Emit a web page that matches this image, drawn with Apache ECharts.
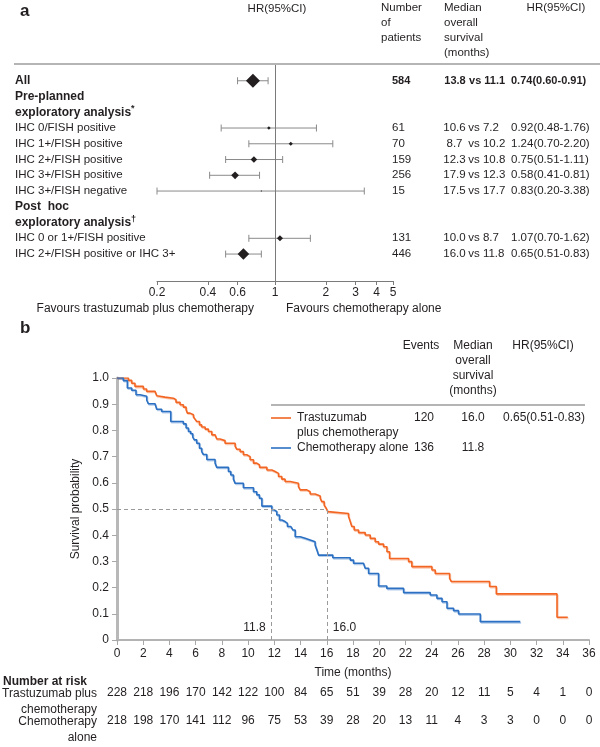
<!DOCTYPE html>
<html><head><meta charset="utf-8">
<script src="https://cdn.jsdelivr.net/npm/echarts@6/dist/echarts.min.js"></script>
<style>html,body{margin:0;padding:0;background:#fff}#c{width:600px;height:747px}</style>
</head><body><div id="c"></div>
<script>
// ---------- Panel a: forest plot data ----------
const forestLabels = ['All','Pre-planned','exploratory analysis','IHC 0/FISH positive','IHC 1+/FISH positive','IHC 2+/FISH positive','IHC 3+/FISH positive','IHC 3+/FISH negative','Post  hoc','exploratory analysis','IHC 0 or 1+/FISH positive','IHC 2+/FISH positive or IHC 3+'];
const forestNotes = ['','','*','','','','','','','\u2020','',''];
const rowKind = ['total','section','section','sub','sub','sub','sub','sub','section','section','sub','sub'];
const nPatients = [584,null,null,61,70,159,256,15,null,null,131,446];
const mosTrast = [13.8,null,null,10.6,8.7,12.3,17.9,17.5,null,null,10.0,16.0];
const mosChemo = [11.1,null,null,7.2,10.2,10.8,12.3,17.7,null,null,8.7,11.8];
const hrPoint = [0.74,null,null,0.92,1.24,0.75,0.58,0.83,null,null,1.07,0.65];
const hrLower = [0.60,null,null,0.48,0.70,0.51,0.41,0.20,null,null,0.70,0.51];
const hrUpper = [0.91,null,null,1.76,2.20,1.11,0.81,3.38,null,null,1.62,0.83];
const forestTicks = [0.2,0.4,0.6,1,2,3,4,5];

// ---------- Panel b: Kaplan-Meier data ----------
const kmGroups = ['Trastuzumab plus chemotherapy','Chemotherapy alone'];
const kmEvents = [120,136];
const kmMedians = [16.0,11.8];
const kmHR = [0.65,0.51,0.83];
const trastTime = [0,0.87,1.12,1.37,2.01,2.26,2.90,3.03,3.16,3.66,4.30,4.50,4.81,5.06,5.27,5.37,5.57,5.83,5.95,6.08,6.29,6.46,6.72,6.97,7.23,7.48,7.61,7.86,8.24,9.01,9.14,9.39,9.64,9.90,10.15,10.41,10.66,10.87,11.43,11.81,12.06,12.32,12.57,12.82,13.21,13.84,13.97,14.48,14.73,15.11,15.50,15.62,15.80,15.95,16.08,16.13,17.66,17.79,17.91,18.09,18.42,18.93,19.31,19.69,19.95,20.33,20.59,20.79,22.24,22.49,24.02,24.27,25.37,25.50,28.42,28.93,33.56,34.38];
const trastSurv = [1.0,0.991,0.980,0.968,0.958,0.949,0.943,0.932,0.927,0.923,0.917,0.907,0.898,0.889,0.879,0.866,0.860,0.851,0.843,0.834,0.821,0.813,0.805,0.796,0.783,0.777,0.767,0.761,0.751,0.739,0.728,0.719,0.707,0.700,0.688,0.675,0.668,0.659,0.649,0.643,0.636,0.624,0.614,0.605,0.598,0.585,0.573,0.566,0.557,0.550,0.541,0.528,0.515,0.503,0.490,0.483,0.471,0.452,0.433,0.420,0.410,0.401,0.388,0.375,0.366,0.356,0.337,0.311,0.299,0.280,0.267,0.254,0.235,0.223,0.204,0.176,0.087,0.087];
const chemoTime = [0,0.48,0.79,1.12,1.45,1.76,2.27,2.39,2.90,3.03,3.41,4.10,5.06,5.27,5.45,5.62,5.78,5.90,6.08,6.29,6.46,6.59,6.85,7.48,7.61,8.50,8.68,8.88,9.01,9.64,10.41,10.66,10.86,11.05,11.81,11.98,12.19,12.39,12.57,12.82,13.00,13.26,13.41,13.59,13.97,14.35,14.73,15.11,15.24,15.37,16.46,17.79,18.04,18.80,18.93,19.19,19.95,20.58,21.86,23.89,24.40,24.79,25.17,25.67,26.05,27.71,30.76];
const chemoSurv = [1.0,0.990,0.962,0.953,0.936,0.930,0.915,0.902,0.898,0.881,0.872,0.834,0.825,0.809,0.796,0.787,0.774,0.764,0.751,0.732,0.719,0.708,0.689,0.675,0.659,0.643,0.630,0.614,0.598,0.581,0.566,0.554,0.541,0.511,0.497,0.490,0.477,0.458,0.452,0.445,0.433,0.426,0.420,0.394,0.388,0.382,0.375,0.363,0.344,0.324,0.314,0.305,0.293,0.286,0.274,0.254,0.206,0.197,0.181,0.172,0.159,0.146,0.121,0.112,0.099,0.070,0.070];
const riskTimes = [0,2,4,6,8,10,12,14,16,18,20,22,24,26,28,30,32,34,36];
const riskTrast = [228,218,196,170,142,122,100,84,65,51,39,28,20,12,11,5,4,1,0];
const riskChemo = [218,198,170,141,112,96,75,53,39,28,20,13,11,4,3,3,0,0,0];

// ---------- styling ----------
const FONT = '"Liberation Sans", Arial, Helvetica, sans-serif';
const INK = '#231f20';
const ORANGE = '#f26522', BLUE = '#2b70c2';
const FS_A = 11.5, FS_B = 12;

const chart = echarts.init(document.getElementById('c'), null, {width:600, height:747});

function rowFmt(fn){
  return function(v){
    const i = Math.round(v);
    if (Math.abs(v - i) > 1e-6 || i < 0 || i >= forestLabels.length) return '';
    return fn(i);
  };
}
const rowAxisBase = {
  type:'value', gridIndex:0, min:-1, max:12.71, interval:1, inverse:true,
  axisLine:{show:false}, axisTick:{show:false}, splitLine:{show:false}
};
const txt = {fontFamily:FONT, color:INK, fontSize:FS_A};
const bold = Object.assign({}, txt, {fontWeight:'bold', fontSize:11});

const forestData = [];
hrPoint.forEach((h,i)=>{ if (h != null) forestData.push([i, h, hrLower[i], hrUpper[i]]); });

const riskAxis = (arr, offset) => ({
  type:'value', gridIndex:1, position:'bottom', offset:offset, min:0, max:36, interval:2,
  axisLine:{show:false, onZero:false}, axisTick:{show:false}, splitLine:{show:false},
  axisLabel:{margin:8, fontFamily:FONT, fontSize:FS_B, color:INK,
    formatter:v=>{ const k = riskTimes.indexOf(Math.round(v)); return k<0?'':String(arr[k]); }}
});

const option = {
  animation:false,
  backgroundColor:'#fff',
  textStyle:{fontFamily:FONT, color:INK},
  grid:[
    {left:157, right:207, top:65, bottom:466, containLabel:false, outerBoundsMode:'none'},
    {left:117, right:11, top:378, bottom:107, containLabel:false, outerBoundsMode:'none'}
  ],
  xAxis:[
    {type:'log', logBase:10, gridIndex:0, min:0.2, max:5, position:'bottom',
     axisLine:{onZero:false, lineStyle:{color:'#7a7a7a', width:1}},
     axisTick:{customValues:forestTicks, length:4, lineStyle:{color:'#7a7a7a'}},
     axisLabel:{customValues:forestTicks, margin:6, fontFamily:FONT, fontSize:FS_A+0.5, color:INK,
       formatter:v=>String(parseFloat(Number(v).toPrecision(3)))},
     splitLine:{show:false}, minorTick:{show:false}},
    {type:'value', gridIndex:1, min:0, max:36, interval:2, position:'bottom',
     name:'Time (months)', nameLocation:'middle', nameGap:27,
     nameTextStyle:{fontFamily:FONT, fontSize:FS_B, color:INK},
     axisLine:{onZero:false, lineStyle:{color:'#b3b3b3', width:2}},
     axisTick:{length:5, lineStyle:{color:'#a8a8a8', width:1}},
     axisLabel:{margin:8, fontFamily:FONT, fontSize:FS_B, color:INK},
     splitLine:{show:false}},
    riskAxis(riskTrast, 39),
    riskAxis(riskChemo, 67)
  ],
  yAxis:[
    Object.assign({}, rowAxisBase, {position:'left',
      axisLabel:{align:'left', margin:142, fontFamily:FONT, fontSize:FS_A, color:INK,
        rich:{
          t:Object.assign({}, bold, {fontSize:FS_A+0.5, lineHeight:16}),
          s:Object.assign({}, bold, {fontSize:FS_A+0.5, lineHeight:16}),
          sup:Object.assign({}, bold, {fontSize:9, lineHeight:9, verticalAlign:'top'}),
          n:Object.assign({}, txt, {lineHeight:16})
        },
        formatter:rowFmt(i=>{
          const k = rowKind[i];
          if (k === 'sub') return '{n|' + forestLabels[i] + '}';
          const key = k === 'total' ? 't' : 's';
          return '{' + key + '|' + forestLabels[i] + '}' + (forestNotes[i] ? '{sup|' + forestNotes[i] + '}' : '');
        })}}),
    Object.assign({}, rowAxisBase, {position:'right', offset:-1,
      axisLabel:{align:'left', margin:0, fontFamily:FONT, fontSize:FS_A, color:INK,
        rich:{b:bold, r:txt},
        formatter:rowFmt(i=>nPatients[i]==null?'':(rowKind[i]==='total'?'{b|':'{r|')+nPatients[i]+'}')}}),
    Object.assign({}, rowAxisBase, {position:'right', offset:51,
      axisLabel:{align:'left', margin:0, fontFamily:FONT, fontSize:FS_A, color:INK,
        rich:{
          a:Object.assign({}, txt, {width:21, align:'right'}), v:txt, c:txt,
          ab:Object.assign({}, bold, {width:22, align:'right'}),
          vb:bold, cb:bold
        },
        formatter:rowFmt(i=>{
          if (mosTrast[i]==null) return '';
          const a = mosTrast[i].toFixed(1), c = mosChemo[i].toFixed(1);
          return rowKind[i]==='total' ? '{ab|'+a+'}{vb| vs }{cb|'+c+'}' : '{a|'+a+'}{v| vs }{c|'+c+'}';
        })}}),
    Object.assign({}, rowAxisBase, {position:'right', offset:118,
      axisLabel:{align:'left', margin:0, fontFamily:FONT, fontSize:FS_A, color:INK,
        rich:{b:bold, r:txt},
        formatter:rowFmt(i=>{
          if (hrPoint[i]==null) return '';
          const s = hrPoint[i].toFixed(2)+'('+hrLower[i].toFixed(2)+'-'+hrUpper[i].toFixed(2)+')';
          return (rowKind[i]==='total'?'{b|':'{r|')+s+'}';
        })}}),
    {type:'value', gridIndex:1, min:0, max:1, interval:0.1, position:'left',
     name:'Survival probability', nameLocation:'middle', nameGap:26, nameRotate:90,
     nameTextStyle:{fontFamily:FONT, fontSize:FS_B, color:INK},
     axisLine:{onZero:false, lineStyle:{color:'#b8b8b8', width:3}},
     axisTick:{length:5, lineStyle:{color:'#a8a8a8', width:1}},
     axisLabel:{margin:8, fontFamily:FONT, fontSize:FS_B, color:INK,
       formatter:v=>Math.abs(v)<1e-9?'0':Number(v).toFixed(1)},
     splitLine:{show:false}}
  ],
  series:[
    {type:'custom', xAxisIndex:0, yAxisIndex:0, data:forestData, clip:false,
     encode:{x:[1,2,3], y:0},
     renderItem:function(params, api){
       const row = api.value(0), h = api.value(1), lo = api.value(2), hi = api.value(3);
       const c = api.coord([h,row]), l = api.coord([lo,row]), r = api.coord([hi,row]);
       const w = Math.pow(3.92/Math.log(hi/lo), 2);
       const s = 0.95*Math.pow(w, 0.6)/2;
       const cap = 3.5, ls = {stroke:'#8a8a8a', lineWidth:1};
       return {type:'group', children:[
         {type:'line', shape:{x1:l[0], y1:l[1], x2:r[0], y2:r[1]}, style:ls},
         {type:'line', shape:{x1:l[0], y1:l[1]-cap, x2:l[0], y2:l[1]+cap}, style:ls},
         {type:'line', shape:{x1:r[0], y1:r[1]-cap, x2:r[0], y2:r[1]+cap}, style:ls},
         {type:'polygon', shape:{points:[[c[0]-s,c[1]],[c[0],c[1]-s],[c[0]+s,c[1]],[c[0],c[1]+s]]}, style:{fill:INK}}
       ]};
     }},
    {type:'scatter', xAxisIndex:0, yAxisIndex:0, data:[], silent:true,
     markLine:{silent:true, symbol:['none','none'], label:{show:false},
       lineStyle:{color:'#7a7a7a', width:1, type:'solid'}, data:[{xAxis:1}]}},
    {type:'line', name:kmGroups[0], xAxisIndex:1, yAxisIndex:4, step:'end', showSymbol:false, symbol:'none',
     data:trastTime.map((t,i)=>[t, trastSurv[i]]),
     lineStyle:{color:ORANGE, width:1.6, shadowColor:'rgba(242,101,34,0.35)', shadowOffsetX:0.8, shadowOffsetY:1.2, shadowBlur:0},
     markLine:{silent:true, symbol:['none','none'], label:{show:false},
       lineStyle:{color:'#9a9a9a', width:1, type:[4,3]},
       data:[
         [{coord:[0,0.5]},{coord:[Math.max(...kmMedians),0.5]}],
         [{coord:[kmMedians[1],0]},{coord:[kmMedians[1],0.5]}],
         [{coord:[kmMedians[0],0]},{coord:[kmMedians[0],0.5]}]
       ]}},
    {type:'line', name:kmGroups[1], xAxisIndex:1, yAxisIndex:4, step:'end', showSymbol:false, symbol:'none',
     data:chemoTime.map((t,i)=>[t, chemoSurv[i]]),
     lineStyle:{color:BLUE, width:1.6, shadowColor:'rgba(43,112,194,0.35)', shadowOffsetX:0.8, shadowOffsetY:1.2, shadowBlur:0}}
  ]
};
chart.setOption(option);

// ---------- text decorations (graphic) ----------
function T(x, y, text, o){
  o = o || {};
  return {type:'text', x:x, y:y, silent:true, z:10,
    style:{text:text, fill:INK, font:(o.weight||'normal')+' '+(o.size||FS_A)+'px '+FONT,
      textAlign:o.align||'left', textVerticalAlign:'middle'}};
}
function L(x1,y1,x2,y2,color,w){
  return {type:'line', silent:true, z:10, shape:{x1:x1,y1:y1,x2:x2,y2:y2}, style:{stroke:color, lineWidth:w}};
}
const ref1 = chart.convertToPixel({seriesIndex:0}, [1, 0]);
const m0 = chart.convertToPixel({seriesIndex:2}, [kmMedians[0], 0]);
const m1 = chart.convertToPixel({seriesIndex:2}, [kmMedians[1], 0]);

const g = [
  // panel a
  T(20, 11, 'a', {weight:'bold', size:17}),
  T(ref1[0]+2, 9, 'HR(95%CI)', {align:'center'}),
  T(381, 8, 'Number'), T(381, 23, 'of'), T(381, 38, 'patients'),
  T(444, 8, 'Median'), T(444, 23, 'overall'), T(444, 38, 'survival'), T(444, 53, '(months)'),
  T(556, 8, 'HR(95%CI)', {align:'center'}),
  L(14, 64, 600, 64, '#b5b5b5', 2),
  T(254, 309, 'Favours trastuzumab plus chemotherapy', {align:'right', size:FS_A+0.5}),
  T(286, 309, 'Favours chemotherapy alone', {size:FS_A+0.5}),
  // panel b
  T(20, 328, 'b', {weight:'bold', size:17}),
  T(421, 346, 'Events', {align:'center', size:FS_B}),
  T(473, 346, 'Median', {align:'center', size:FS_B}),
  T(473, 361, 'overall', {align:'center', size:FS_B}),
  T(473, 376, 'survival', {align:'center', size:FS_B}),
  T(473, 391, '(months)', {align:'center', size:FS_B}),
  T(543, 346, 'HR(95%CI)', {align:'center', size:FS_B}),
  L(271, 405, 585, 405, '#b5b5b5', 2),
  L(271, 418, 291, 418, ORANGE, 1.6),
  T(297, 418, 'Trastuzumab', {size:FS_B}),
  T(297, 433, 'plus chemotherapy', {size:FS_B}),
  T(424, 418, String(kmEvents[0]), {align:'center', size:FS_B}),
  T(473, 418, kmMedians[0].toFixed(1), {align:'center', size:FS_B}),
  T(544, 418, kmHR[0].toFixed(2)+'('+kmHR[1].toFixed(2)+'-'+kmHR[2].toFixed(2)+')', {align:'center', size:FS_B}),
  L(271, 448, 291, 448, BLUE, 1.6),
  T(297, 448, kmGroups[1], {size:FS_B}),
  T(424, 448, String(kmEvents[1]), {align:'center', size:FS_B}),
  T(473, 448, kmMedians[1].toFixed(1), {align:'center', size:FS_B}),
  T(m1[0]-6, m1[1]-12, kmMedians[1].toFixed(1), {align:'right', size:FS_B}),
  T(m0[0]+6, m0[1]-12, kmMedians[0].toFixed(1), {size:FS_B}),
  // number at risk
  T(3, 682, 'Number at risk', {weight:'bold', size:FS_B}),
  T(97, 694, 'Trastuzumab plus', {align:'right', size:FS_B}),
  T(97, 710, 'chemotherapy', {align:'right', size:FS_B}),
  T(97, 722, 'Chemotherapy', {align:'right', size:FS_B}),
  T(97, 738, 'alone', {align:'right', size:FS_B})
];
chart.setOption({graphic:g});
</script>
</body></html>
